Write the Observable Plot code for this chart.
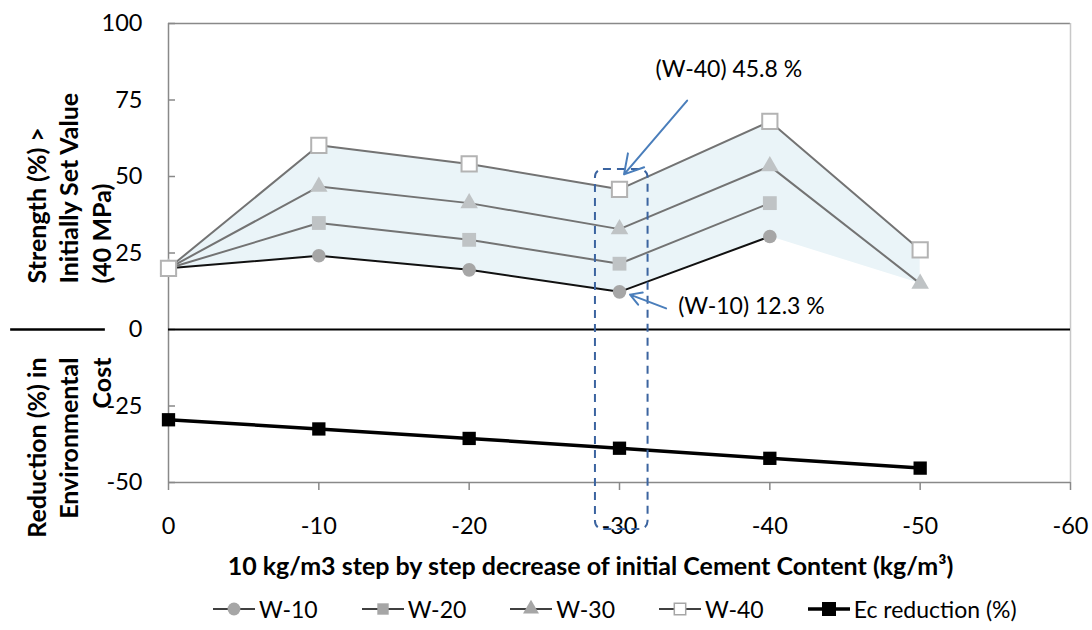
<!DOCTYPE html>
<html><head><meta charset="utf-8">
<script src="https://cdn.jsdelivr.net/npm/d3@7"></script>
<script src="https://cdn.jsdelivr.net/npm/@observablehq/plot@0.6"></script>
<style>
body{margin:0;background:#fff;font-family:Lato,sans-serif;color:#000;}
#legend{display:flex;align-items:center;margin-left:212px;gap:43px;height:38px;font-size:23px;}
.item{display:flex;align-items:center;gap:3px;}
.item svg{display:block;}
</style></head><body>
<div id="chart"></div>
<div id="legend"></div>
<script>
// ---- data ----
const steps = [0, -10, -20, -30, -40, -50];
const w10 = [20, 24.1, 19.5, 12.3, 30.4, null];
const w20 = [20, 34.8, 29.3, 21.5, 41.3, null];
const w30 = [20, 46.7, 41.3, 32.8, 53.4, 15.0];
const w40 = [20, 60.2, 54.1, 45.8, 68.0, 26.0];
const ecReduction = [-29.5, -32.5, -35.6, -38.8, -42.1, -45.3];
const seriesNames = ["W-10", "W-20", "W-30", "W-40"];
const seriesValues = [w10, w20, w30, w40];
const xTicks = [0, -10, -20, -30, -40, -50, -60];
const yTicks = [100, 75, 50, 25, 0, -25, -50];
const xTitle = "10 kg/m3 step by step decrease of initial Cement Content (kg/m³)";
const yTitleUpper = "Strength (%) >\nInitially Set Value\n(40 MPa)";
const yTitleLower = "Reduction (%) in\nEnvironmental\nCost";
const legendLabels = ["W-10", "W-20", "W-30", "W-40", "Ec reduction (%)"];
// annotations (data coordinates)
const annoTexts = [{x: -32.4, y: 85.0, text: "(W-40) 45.8 %"}, {x: -33.9, y: 7.5, text: "(W-10) 12.3 %"}];
const annoArrows = [{x1: -34.5, y1: 74.8, x2: -30.3, y2: 50.7}, {x1: -33.1, y1: 6.9, x2: -30.7, y2: 11.4}];
const annoBox = [{x1: -28.4, x2: -31.9, y1: -65.4, y2: 52.3}];
const separatorX = [10.5, 4.2];

// ---- derived tables ----
const rows = [];
seriesNames.forEach((s, i) => steps.forEach((x, j) => {
  const v = seriesValues[i][j];
  if (v != null) rows.push({series: s, x, y: v});
}));
const band = steps.map((x, j) => {
  const vs = seriesValues.map(a => a[j]).filter(v => v != null);
  return {x, lo: d3.min(vs), hi: d3.max(vs)};
});
const ecRows = steps.map((x, j) => ({x, y: ecReduction[j]}));

const W = 1092, H = 590;
const grey = "#898989";
const markerStyle = {
  "W-10": {symbol: "circle", r: 6.8, fill: "#a6a6a6", stroke: "none"},
  "W-20": {symbol: "square", r: 7.8, fill: "#bfc3c5", stroke: "none"},
  "W-30": {symbol: "triangle", r: 6.5, fill: "#bfc3c5", stroke: "none"},
  "W-40": {symbol: "square", r: 8.6, fill: "#ffffff", stroke: "#b3b3b3"}
};

const chart = Plot.plot({
  width: W, height: H,
  marginLeft: 168, marginRight: 22, marginTop: 23, marginBottom: H - 482,
  style: {fontFamily: "Lato, sans-serif", fontSize: "23.5px", color: "#000", overflow: "visible", background: "#fff"},
  x: {domain: [0, -60], label: null},
  y: {domain: [-50, 100], label: null},
  color: {domain: seriesNames, range: ["#111111", "#737373", "#737373", "#737373"]},
  marks: [
    Plot.areaY(band, {x: "x", y1: "lo", y2: "hi", fill: "#eaf4f8"}),
    Plot.ruleY([100], {stroke: grey, strokeWidth: 1.5}),
    Plot.ruleX([-60], {stroke: "#c8c8c8", strokeWidth: 1.5}),
    Plot.ruleY([-50], {stroke: grey, strokeWidth: 1.5}),
    Plot.ruleX([0], {stroke: grey, strokeWidth: 1.5}),
    Plot.axisY(yTicks, {tickSize: 7, dx: 7, text: null, stroke: grey, strokeWidth: 1.5, label: null}),
    Plot.axisY(yTicks, {tickSize: 0, tickPadding: 26, tickFormat: d => String(d), fill: "#000", label: null}),
    Plot.axisX(xTicks, {tickSize: 8, text: null, stroke: grey, strokeWidth: 1.5, label: null}),
    Plot.axisX(xTicks, {tickSize: 0, tickPadding: 35, tickFormat: d => String(d), fill: "#000", label: null}),
    Plot.ruleY([0], {stroke: "#000", strokeWidth: 2}),
    Plot.ruleY([0], {x1: separatorX[0], x2: separatorX[1], stroke: "#000", strokeWidth: 2.5}),
    Plot.line(rows, {x: "x", y: "y", stroke: "series", z: "series", strokeWidth: 2}),
    ...seriesNames.map(s => Plot.dot(rows.filter(d => d.series === s), {
      x: "x", y: "y", symbol: markerStyle[s].symbol, r: markerStyle[s].r,
      fill: markerStyle[s].fill, stroke: markerStyle[s].stroke, strokeWidth: 2
    })),
    Plot.line(ecRows, {x: "x", y: "y", stroke: "#000", strokeWidth: 3.5}),
    Plot.dot(ecRows, {x: "x", y: "y", symbol: "square", r: 7.5, fill: "#000"}),
    Plot.rect(annoBox, {x1: "x1", x2: "x2", y1: "y1", y2: "y2", rx: 8, fill: "none", stroke: "#3b64a0", strokeWidth: 2, strokeDasharray: "8,6"}),
    Plot.arrow(annoArrows, {x1: "x1", y1: "y1", x2: "x2", y2: "y2", stroke: "#4a7ebb", strokeWidth: 2, headLength: 16}),
    Plot.text(annoTexts, {x: "x", y: "y", text: "text", textAnchor: "start", lineAnchor: "middle", fontSize: 23, fill: "#000"}),
    Plot.text([yTitleUpper], {frameAnchor: "left", rotate: -90, textAnchor: "start", lineAnchor: "top", dx: -146, dy: 30.5, fontWeight: "bold", fontSize: 25, lineHeight: 1.3, fill: "#000"}),
    Plot.text([yTitleLower], {frameAnchor: "left", rotate: -90, textAnchor: "end", lineAnchor: "top", dx: -146, dy: 104.5, fontWeight: "bold", fontSize: 25, lineHeight: 1.3, fill: "#000"}),
    Plot.text([xTitle], {frameAnchor: "bottom", dx: -29, dy: 84, lineAnchor: "middle", fontWeight: "bold", fontSize: 25, fill: "#000"})
  ]
});
document.getElementById("chart").append(chart);

// ---- legend ----
const lg = d3.select("#legend");
legendLabels.forEach((lab, i) => {
  const item = lg.append("div").attr("class", "item");
  const svg = item.append("svg").attr("width", 44).attr("height", 22);
  if (i < 4) {
    const ms = markerStyle[seriesNames[i]];
    svg.append("line").attr("x1", 1).attr("x2", 43).attr("y1", 11).attr("y2", 11).attr("stroke", "#404040").attr("stroke-width", 2);
    const sym = {circle: d3.symbolCircle, square: d3.symbolSquare, triangle: d3.symbolTriangle}[ms.symbol];
    svg.append("path").attr("transform", "translate(22,11)")
      .attr("d", d3.symbol(sym, ms.symbol === "triangle" ? 110 : 130)())
      .attr("fill", i === 3 ? "#fff" : "#a6a6a6").attr("stroke", i === 3 ? "#a6a6a6" : "none").attr("stroke-width", 1.5);
  } else {
    svg.append("line").attr("x1", 1).attr("x2", 43).attr("y1", 11).attr("y2", 11).attr("stroke", "#000").attr("stroke-width", 3.5);
    svg.append("rect").attr("x", 15).attr("y", 4).attr("width", 14).attr("height", 14).attr("fill", "#000");
  }
  item.append("span").text(lab);
});
</script>
</body></html>
